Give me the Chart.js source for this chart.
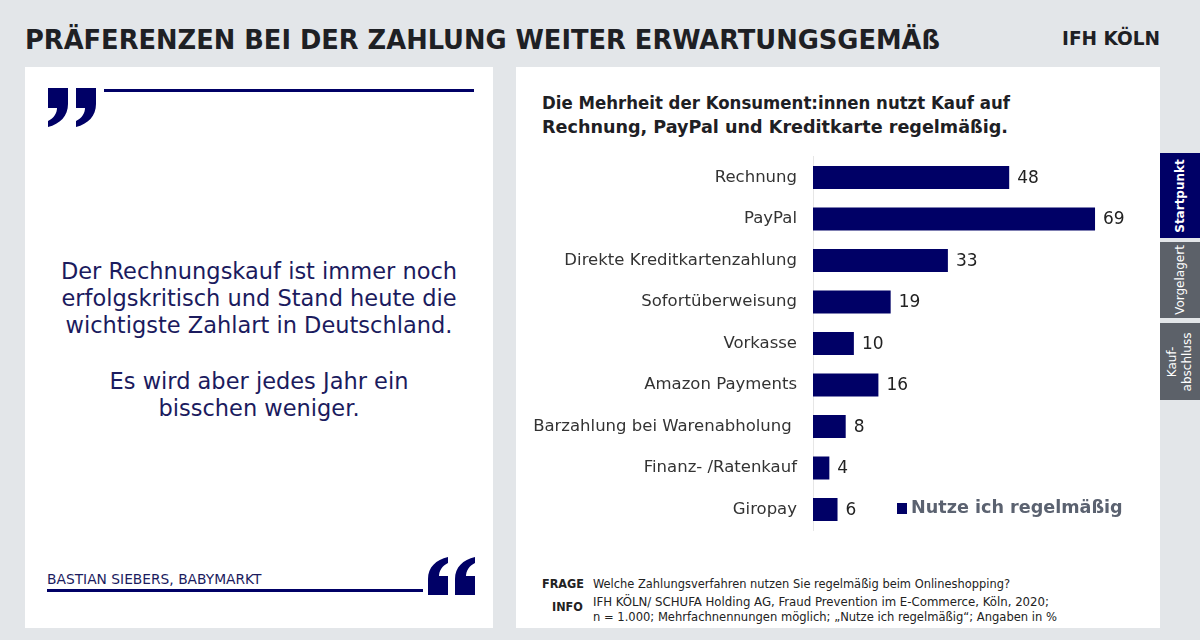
<!DOCTYPE html>
<html><head><meta charset="utf-8">
<script src="https://cdn.jsdelivr.net/npm/chart.js@4/dist/chart.umd.min.js"></script>
<style>
html,body{margin:0;padding:0;}
body{width:1200px;height:640px;background:#e3e6e9;position:relative;overflow:hidden;font-family:"DejaVu Sans",Verdana,sans-serif;}
.abs{position:absolute;white-space:nowrap;transform-origin:0 0;}
.panel{position:absolute;background:#fff;}
#title{left:25px;top:24px;font-weight:bold;font-size:27px;color:#1e2024;font-family:"DejaVu Sans Condensed","DejaVu Sans";}
#logo{left:1062px;top:26px;font-weight:bold;font-size:20px;color:#1e2024;}
.qline{position:absolute;background:#000066;height:3px;}
.quote{position:absolute;width:468px;left:25px;text-align:center;color:#1b1b5e;font-size:22.5px;line-height:27px;}
.sub{left:542px;font-weight:bold;font-size:17.5px;color:#1e2024;}
.tab{position:absolute;left:1160px;width:40px;}
.tab span{position:absolute;left:50%;top:50%;transform:translate(-50%,-50%) rotate(-90deg);color:#fff;font-size:12px;text-align:center;line-height:15px;white-space:nowrap;}
.foot{position:absolute;font-family:"DejaVu Sans Condensed","DejaVu Sans";font-size:12.5px;color:#222;white-space:nowrap;transform-origin:0 0;}
</style></head>
<body>
<div id="title" class="abs">PRÄFERENZEN BEI DER ZAHLUNG WEITER ERWARTUNGSGEMÄß</div>
<div id="logo" class="abs">IFH KÖLN</div>

<div class="panel" style="left:25px;top:67px;width:468px;height:561px;"></div>
<div class="panel" style="left:516px;top:67px;width:644px;height:561px;"></div>

<svg style="position:absolute;left:0;top:0;" width="1200" height="640">
  <g fill="#000066">
    <path d="M48,88 L68,88 L68,104 C68,116 60,124 48,127 L48,121 C54,118 57,113 57,108 L48,108 Z"/>
    <path d="M76,88 L96,88 L96,104 C96,116 88,124 76,127 L76,121 C82,118 85,113 85,108 L76,108 Z"/>
    <path d="M448,557 L448,563 C442,566 439,571 439,576 L448,576 L448,595 L428,595 L428,579 C428,567 436,560 448,557 Z"/>
    <path d="M475,557 L475,563 C469,566 466,571 466,576 L475,576 L475,595 L455,595 L455,579 C455,567 463,560 475,557 Z"/>
  </g>
</svg>
<div class="qline" style="left:104px;top:89px;width:370px;"></div>
<div class="qline" style="left:47px;top:589px;width:376px;"></div>
<div class="abs" style="left:47px;top:571px;font-size:13.8px;color:#1b1b5e;">BASTIAN SIEBERS, BABYMARKT</div>

<div class="quote" style="top:258px;">Der Rechnungskauf ist immer noch<br>erfolgskritisch und Stand heute die<br>wichtigste Zahlart in Deutschland.</div>
<div class="quote" style="top:368px;">Es wird aber jedes Jahr ein<br>bisschen weniger.</div>

<div id="sub1" class="abs sub" style="top:93px;">Die Mehrheit der Konsument:innen nutzt Kauf auf</div>
<div id="sub2" class="abs sub" style="top:117px;">Rechnung, PayPal und Kreditkarte regelmäßig.</div>

<div style="position:absolute;left:517px;top:140px;width:643px;height:410px;"><canvas id="c" width="643" height="410"></canvas></div>

<div class="abs" style="left:897px;top:503px;width:10px;height:11px;background:#000066;"></div>
<div id="leg" class="abs" style="left:911px;top:497px;font-size:17.6px;font-weight:bold;color:#5b6270;">Nutze ich regelmäßig</div>

<div class="foot" style="left:542px;top:576px;font-weight:bold;">FRAGE</div>
<div id="f1" class="foot" style="left:593px;top:576px;">Welche Zahlungsverfahren nutzen Sie regelmäßig beim Onlineshopping?</div>
<div class="foot" style="left:552px;top:599px;font-weight:bold;">INFO</div>
<div id="f2" class="foot" style="left:593px;top:594px;">IFH KÖLN/ SCHUFA Holding AG, Fraud Prevention im E-Commerce, Köln, 2020;</div>
<div id="f3" class="foot" style="left:593px;top:609px;">n = 1.000; Mehrfachnennungen möglich; „Nutze ich regelmäßig“; Angaben in %</div>

<div class="tab" style="top:153px;height:85px;background:#000066;"><span style="font-weight:bold;">Startpunkt</span></div>
<div class="tab" style="top:242px;height:76px;background:#5c6169;"><span>Vorgelagert</span></div>
<div class="tab" style="top:323px;height:77px;background:#5c6169;"><span>Kauf-<br>abschluss</span></div>

<script>
const categories = ["Rechnung","PayPal","Direkte Kreditkartenzahlung","Sofortüberweisung","Vorkasse","Amazon Payments","Barzahlung bei Warenabholung ","Finanz- /Ratenkauf","Giropay"];
const values = [48,69,33,19,10,16,8,4,6];
const seriesName = "Nutze ich regelmäßig";

function fitWidth(id, w){
  const el=document.getElementById(id);
  const r=el.getBoundingClientRect().width;
  el.style.transform='scaleX('+(w/r)+')';
}
fitWidth('title',915);
fitWidth('logo',98);
fitWidth('sub1',468);
fitWidth('sub2',466);
fitWidth('f1',417);
fitWidth('f2',456);
fitWidth('f3',464);

const valueLabels = {
  id:'valueLabels',
  afterDatasetsDraw(chart){
    const ctx=chart.ctx;
    const meta=chart.getDatasetMeta(0);
    ctx.save();
    ctx.font='17px "DejaVu Sans"';
    ctx.fillStyle='#222';
    ctx.textBaseline='middle';
    ctx.textAlign='left';
    meta.data.forEach((bar,i)=>{
      ctx.fillText(String(chart.data.datasets[0].data[i]), bar.x+8, bar.y+1);
    });
    ctx.restore();
  }
};

new Chart(document.getElementById('c'),{
  type:'bar',
  data:{labels:categories,datasets:[{label:seriesName,data:values,backgroundColor:'#000066',borderWidth:0,barPercentage:0.554,categoryPercentage:1}]},
  options:{
    indexAxis:'y',responsive:false,animation:false,
    layout:{padding:{top:16.75,bottom:19.75,left:0,right:20}},
    plugins:{legend:{display:false},tooltip:{enabled:false}},
    scales:{
      x:{display:false,min:0,max:80},
      y:{
        grid:{display:false,drawTicks:false},
        border:{display:true,color:'#e6e6e6',width:1},
        ticks:{color:'#333',font:{family:'DejaVu Sans',size:16.5},padding:16},
        afterFit(s){s.width=296;s.paddingTop=0;s.paddingBottom=0;}
      }
    }
  },
  plugins:[valueLabels]
});
</script>
</body></html>
